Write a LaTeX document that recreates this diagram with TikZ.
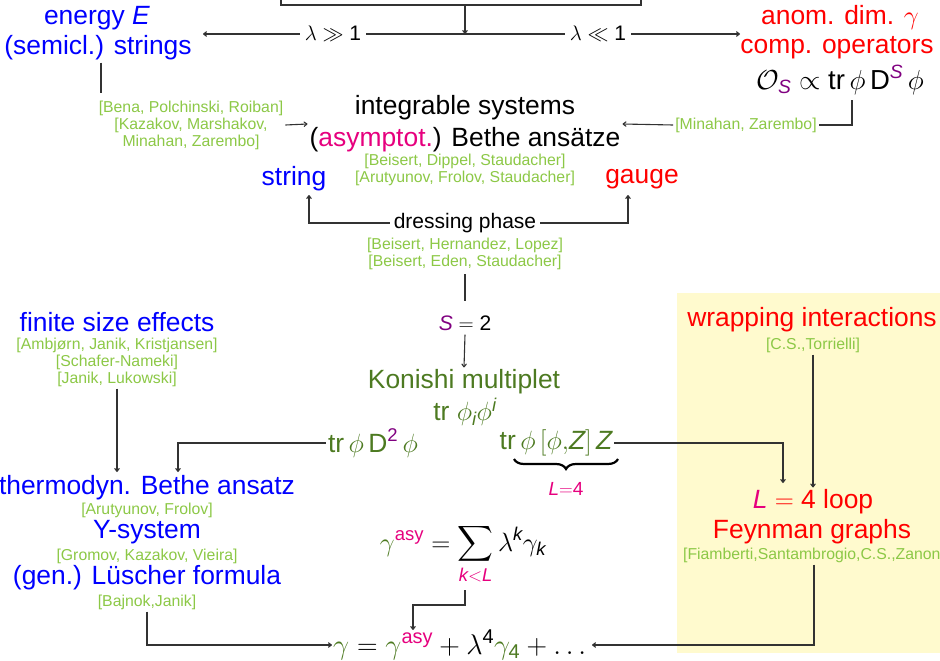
\documentclass[tikz,border=0pt]{standalone}
\usepackage{fix-cm}
\usepackage{amsmath}
\usepackage{fontspec}
\setmainfont{Liberation Sans}
\usetikzlibrary{arrows.meta,decorations.pathreplacing}
\definecolor{cblue}{RGB}{0,0,255}
\definecolor{cred}{RGB}{255,0,0}
\definecolor{cgreen}{RGB}{140,200,70}
\definecolor{kgreen}{RGB}{77,122,33}
\definecolor{cmag}{RGB}{230,0,126}
\definecolor{cpurp}{RGB}{128,0,128}
\definecolor{byel}{RGB}{255,250,206}
\definecolor{dgray}{RGB}{50,50,50}
\begin{document}
\begin{tikzpicture}[x=1pt,y=-1pt,
  big/.style={font=\fontsize{26.4}{32}\selectfont, inner sep=2pt, align=center},
  lab/.style={font=\fontsize{21}{25}\selectfont, inner sep=5pt},
  ref/.style={font=\fontsize{15.8}{17}\selectfont, text=cgreen, inner sep=2pt, align=center},
  con/.style={draw=dgray, line width=1.1pt},
  arr/.style={con, -{To[length=4pt,width=5.5pt]}}]
\useasboundingbox (0,0) rectangle (940,661);
\fill[byel] (677,293) rectangle (960,653);
\node[draw=dgray, line width=1.1pt, minimum width=360pt, minimum height=40pt, inner sep=0pt] (topbox) at (461,-15) {};
% top row
\node[big, text=cblue] (energy) at (97,18) {energy \textit{E}};
\node[big, text=cblue] (strings) at (98,48) {(semicl.) strings};
\node[big, text=cred] (anom) at (840,18) {anom. dim. $\gamma$};
\node[big, text=cred] (comp) at (837,48) {comp. operators};
\node[big, font=\fontsize{27.5}{32}\selectfont] (OS) at (840,80) {$\mathcal{O}_{\textcolor{cpurp}{\textit{S}}}\propto\text{tr}\,\phi\,\text{D}^{\textcolor{cpurp}{\textit{S}}}\,\phi$};
\coordinate (j) at (465,34);
\coordinate (sa) at (203,34);
\coordinate (aa) at (740,34);
\node[lab] (lgg) at (333,34) {$\lambda\gg\text{1}$};
\node[lab] (lll) at (598,34) {$\lambda\ll\text{1}$};
\draw[arr] (j |- topbox.south) -- (j);
\draw[con] (j) -- (lgg.east);
\draw[arr] (lgg.west) -- (sa);
\draw[con] (j) -- (lll.west);
\draw[arr] (lll.east) -- (aa);
% integrable systems
\node[big] (integ) at (465,124) {integrable systems\\(\textcolor{cmag}{asymptot.}) Bethe ansätze};
\node[ref] (bpr) at (191,125) {[Bena, Polchinski, Roiban]\\{}[Kazakov, Marshakov,\\Minahan, Zarembo]};
\coordinate (l1) at (101,93);
\draw[con] (strings.south -| l1) -- (l1);
\draw[arr] (bpr.east) -- (integ.west);
\node[ref] (mz) at (746,125) {[Minahan, Zarembo]};
\coordinate (r1) at (852,100);
\draw[con] (r1) |- (mz.east);
\draw[arr] (mz.west) -- (integ.east);
\node[ref] (bds) at (465,170) {[Beisert, Dippel, Staudacher]\\{}[Arutyunov, Frolov, Staudacher]};
\node[big, text=cblue] (string) at (294,179) {string};
\node[big, text=cred] (gauge) at (642,179) {gauge};
% dressing phase
\node[lab, inner sep=4pt] (dress) at (465,223) {dressing phase};
\coordinate (ds) at (309,195);
\coordinate (dg) at (628,195);
\draw[arr] (dress.west) -| (ds);
\draw[arr] (dress.east) -| (dg);
\node[ref] (hel) at (465,254) {[Beisert, Hernandez, Lopez]\\{}[Beisert, Eden, Staudacher]};
\node[lab, inner sep=4pt] (s2) at (465,323) {$\textcolor{cpurp}{\textit{S}}=\text{2}$};
\draw[con, shorten <=2pt, shorten >=10pt] (hel.south) -- (s2.north);
\node[big, text=kgreen] (kon) at (464,382) {Konishi multiplet};
\draw[arr] (s2.south) -- (kon.north);
\node[big, text=kgreen] (trphi) at (465,412) {tr $\phi_{\textit{i}}\phi^{\textit{i}}$};
\node[big, text=kgreen] (trD) at (373,443) {tr\,$\phi\,\text{D}^{\textcolor{cpurp}{\text{2}}}\,\phi$};
\node[big, text=kgreen] (trZ) at (556,443) {tr\,$\phi\,[\phi{,}\textit{Z}]\,\textit{Z}$};
\draw[decorate, decoration={brace, mirror, amplitude=10pt}, line width=2.2pt, black] (514,459) -- (618,459);
\node[font=\fontsize{19}{22}\selectfont, text=cmag, inner sep=1pt] (L4lab) at (566,489) {$\textit{L}{=}\text{4}$};
% left column
\node[big, text=cblue] (fse) at (117,322) {finite size effects};
\node[ref] (fref) at (117,362) {[Ambjørn, Janik, Kristjansen]\\{}[Schafer-Nameki]\\{}[Janik, Lukowski]};
\node[big, text=cblue] (thermo) at (147,488) {thermodyn. Bethe ansatz};
\node[ref] (af) at (147,510) {[Arutyunov, Frolov]};
\node[big, text=cblue] (ysys) at (147,532) {Y-system};
\node[ref] (gkv) at (147,556) {[Gromov, Kazakov, Vieira]};
\node[big, text=cblue] (lusch) at (147,578) {(gen.) Lüscher formula};
\node[ref] (bj) at (147,602) {[Bajnok,Janik]};
\coordinate (t1) at (178,472);
\coordinate (t2) at (117,472);
\draw[arr] (trD.west) -| (t1);
\draw[arr] (fref.south) -- (t2);
% right column
\node[big, text=cred] (wrap) at (812,320) {wrapping interactions};
\node[ref] (ct) at (813,345) {[C.S.,Torrielli]};
\node[big, text=cred] (L4) at (813,502) {$\textcolor{cmag}{\textit{L}}=\text{4}$ loop};
\node[big, text=cred] (feyn) at (812,532) {Feynman graphs};
\node[ref] (fsc) at (814,555) {[Fiamberti,Santambrogio,C.S.,Zanon]};
\coordinate (w1) at (783,483);
\draw[arr] (ct.south) -- (L4.north);
\draw[arr] (trZ.east) -| (w1);
% gamma
\node[big, anchor=base] (gasy) at (463,551) {$\displaystyle\textcolor{kgreen}{\gamma}^{\textcolor{cmag}{\text{asy}}}=\sum_{\textcolor{cmag}{\textit{k}<\textit{L}}}\lambda^{\textit{k}}\gamma_{\textit{k}}$};
\node[big, font=\fontsize{28.5}{32}\selectfont, inner sep=1pt] (geq) at (462,645) {$\textcolor{kgreen}{\gamma}=\textcolor{kgreen}{\gamma}^{\textcolor{cmag}{\text{asy}}}+\lambda^{\text{4}}\textcolor{kgreen}{\gamma_{\text{4}}}+\dots$};
\coordinate (g1) at (465,590);
\coordinate (g2) at (413,630);
\draw[arr] (g1) |- (413,605) -- (g2);
\draw[arr] (bj.south) |- (geq.west);
\draw[arr] (fsc.south) |- (geq.east);
\end{tikzpicture}
\end{document}
